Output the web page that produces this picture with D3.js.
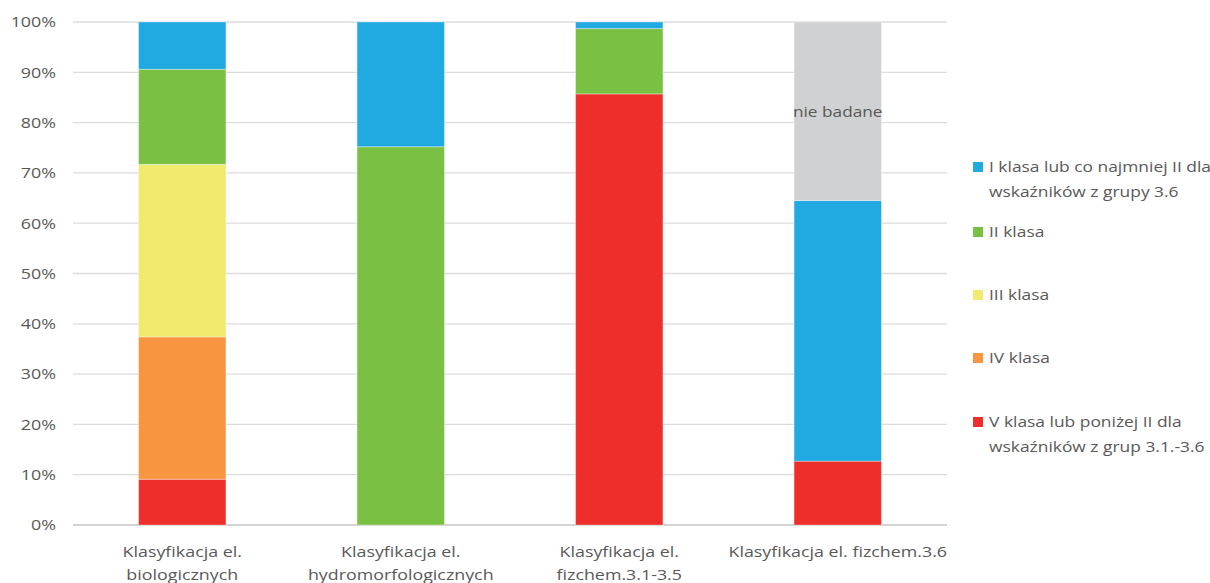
<!DOCTYPE html>
<html>
<head>
<meta charset="utf-8">
<script src="https://cdn.jsdelivr.net/npm/d3@7/dist/d3.min.js"></script>
<style>
  html, body { margin: 0; padding: 0; background: #fff; }
  svg { display: block; font-family: "Open Sans", sans-serif; }
</style>
</head>
<body>
<svg id="chart" width="1210" height="583"></svg>
<script>
// Categories (x axis, two-line labels)
const categories = [
  ["Klasyfikacja el.", "biologicznych"],
  ["Klasyfikacja el.", "hydromorfologicznych"],
  ["Klasyfikacja el.", "fizchem.3.1-3.5"],
  ["Klasyfikacja el. fizchem.3.6"]
];

// Series, stacked bottom to top (percent of bodies of water)
const seriesNames = [
  "V klasa lub poniżej II dla wskaźników z grup 3.1.-3.6",
  "IV klasa",
  "III klasa",
  "II klasa",
  "I klasa lub co najmniej II dla wskaźników z grupy 3.6",
  "nie badane"
];
const vClass    = [9.1, 0, 85.7, 12.7];
const ivClass   = [28.3, 0, 0, 0];
const iiiClass  = [34.3, 0, 0, 0];
const iiClass   = [18.9, 75.2, 13.0, 0];
const iClass    = [9.4, 24.8, 1.3, 51.8];
const notTested = [0, 0, 0, 35.5];

const seriesColors = ["#ee2e2b", "#f79541", "#f1ea6e", "#7ac143", "#21a9e1", "#d0d1d3"];

// Legend entries, top to bottom (wrapped lines)
const legendItems = [
  { series: 4, lines: ["I klasa lub co najmniej II dla", "wskaźników z grupy 3.6"] },
  { series: 3, lines: ["II klasa"] },
  { series: 2, lines: ["III klasa"] },
  { series: 1, lines: ["IV klasa"] },
  { series: 0, lines: ["V klasa lub poniżej II dla", "wskaźników z grup 3.1.-3.6"] }
];

const yTicks = [0, 10, 20, 30, 40, 50, 60, 70, 80, 90, 100];

const rows = categories.map((c, i) => ({
  idx: i,
  s0: vClass[i], s1: ivClass[i], s2: iiiClass[i], s3: iiClass[i], s4: iClass[i], s5: notTested[i]
}));
const keys = ["s0", "s1", "s2", "s3", "s4", "s5"];
const stacked = d3.stack().keys(keys)(rows);

const svg = d3.select("#chart");
const plotLeft = 73, plotRight = 947, plotTop = 22, plotBottom = 525;

const x = d3.scaleBand().domain(categories.map((c, i) => i)).range([plotLeft, plotRight]).paddingInner(0.6).paddingOuter(0.3);
const y = d3.scaleLinear().domain([0, 100]).range([plotBottom, plotTop]);

const textColor = "#595959";
const fontSize = "15px";
const wide = 1.19; // horizontal stretch of the label face

// gridlines
svg.append("g")
  .selectAll("line")
  .data(yTicks)
  .join("line")
  .attr("x1", plotLeft).attr("x2", plotRight)
  .attr("y1", d => y(d)).attr("y2", d => y(d))
  .attr("stroke", d => d === 0 ? "#d4d4d4" : "#dcdcdc")
  .attr("stroke-width", d => d === 0 ? 2 : 1.3);

// y axis labels
const yAxis = d3.axisLeft(y).tickValues(yTicks).tickFormat(d => d + "%").tickSize(0);
const yg = svg.append("g").attr("transform", `translate(${plotLeft},0)`).call(yAxis);
yg.select(".domain").remove();
yg.selectAll("text")
  .attr("x", 0)
  .attr("transform", `translate(-17,0) scale(${wide},1)`)
  .attr("fill", textColor)
  .style("font-size", fontSize)
  .style("font-family", "'Open Sans', sans-serif");

// bars
svg.append("g")
  .selectAll("g")
  .data(stacked)
  .join("g")
  .attr("fill", (d, i) => seriesColors[i])
  .selectAll("rect")
  .data(d => d.filter(p => p[1] - p[0] > 0))
  .join("rect")
  .attr("x", d => x(d.data.idx))
  .attr("width", x.bandwidth())
  .attr("y", d => y(d[1]))
  .attr("height", d => y(d[0]) - y(d[1]))
  .attr("stroke", "rgba(255,255,255,0.35)")
  .attr("stroke-width", 1);

// label inside the "nie badane" segment
const nb = stacked[5].filter(p => p[1] - p[0] > 0);
svg.append("g")
  .selectAll("text")
  .data(nb)
  .join("text")
  .attr("transform", d => `translate(${x(d.data.idx) + x.bandwidth() / 2},${y((d[0] + d[1]) / 2)}) scale(1.15,1)`)
  .attr("dy", "0.35em")
  .attr("text-anchor", "middle")
  .attr("fill", textColor)
  .style("font-size", fontSize)
  .text("nie badane");

// x axis labels
const xg = svg.append("g");
categories.forEach((lines, i) => {
  const t = xg.append("text")
    .attr("transform", `translate(${x(i) + x.bandwidth() / 2},557) scale(${wide},1)`)
    .attr("text-anchor", "middle")
    .attr("fill", textColor)
    .style("font-size", fontSize);
  lines.forEach((ln, j) => {
    t.append("tspan").attr("x", 0).attr("dy", j === 0 ? 0 : 23).text(ln);
  });
});

// legend
const legendY = [167, 232, 295, 358, 422];
const lg = svg.append("g");
legendItems.forEach((item, k) => {
  const g = lg.append("g").attr("transform", `translate(973,${legendY[k]})`);
  g.append("rect").attr("x", 0).attr("y", -5).attr("width", 10).attr("height", 10).attr("fill", seriesColors[item.series]);
  const t = g.append("text").attr("transform", "translate(16,0) scale(1.16,1)")
    .attr("fill", textColor).style("font-size", fontSize);
  item.lines.forEach((ln, j) => {
    t.append("tspan").attr("x", 0).attr("dy", j === 0 ? "0.35em" : 25).text(ln);
  });
});
</script>
</body>
</html>
